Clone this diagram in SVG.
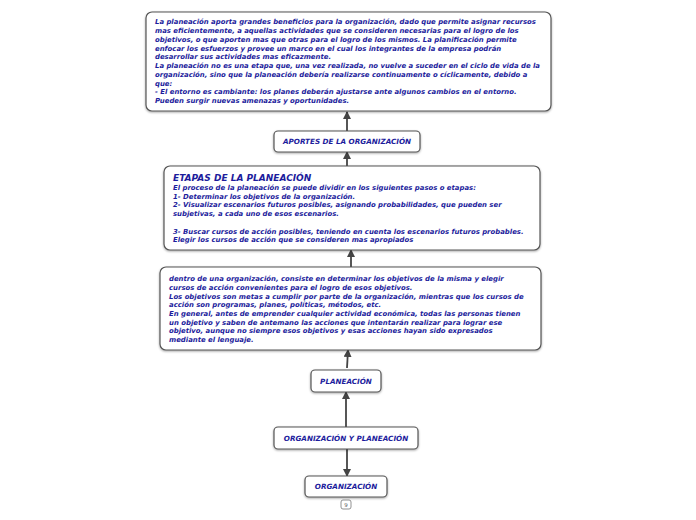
<svg xmlns="http://www.w3.org/2000/svg" width="696" height="520" viewBox="0 0 696 520">
<style>
.box{fill:#fff;stroke:#555;stroke-width:1.2}
.t{font-family:"DejaVu Sans",Verdana,sans-serif;font-weight:bold;font-style:italic;font-size:6.9px;fill:#1c1c9c}
.c{text-anchor:middle;font-size:7.2px}
.h{font-size:9px}
.con{stroke:#444;stroke-width:1.8;fill:none}
</style>
<defs>
<marker id="ah" markerWidth="8" markerHeight="8" refX="7" refY="4" orient="auto" markerUnits="userSpaceOnUse"><path d="M0,0 L8,4 L0,8 Z" fill="#444"/></marker>
<filter id="sh" x="-5%" y="-5%" width="110%" height="120%"><feDropShadow dx="0" dy="1" stdDeviation="0.8" flood-color="#000" flood-opacity="0.35"/></filter>
</defs>
<g id="connectors">
<line class="con" x1="347" y1="131" x2="347" y2="112" marker-end="url(#ah)"/>
<line class="con" x1="347" y1="166" x2="347" y2="152" marker-end="url(#ah)"/>
<line class="con" x1="351" y1="267" x2="351" y2="250" marker-end="url(#ah)"/>
<line class="con" x1="347" y1="368" x2="348" y2="350" marker-end="url(#ah)"/>
<line class="con" x1="346" y1="427" x2="346" y2="392" marker-end="url(#ah)"/>
<line class="con" x1="347" y1="449" x2="347" y2="476" marker-end="url(#ah)"/>
</g>
<g id="n1">
<rect class="box" filter="url(#sh)" x="146" y="12" width="405" height="99" rx="6"/>
<text class="t" x="155" y="24">La planeación aporta grandes beneficios para la organización, dado que permite asignar recursos</text>
<text class="t" x="155" y="33">mas eficientemente, a aquellas actividades que se consideren necesarias para el logro de los</text>
<text class="t" x="155" y="41.5">objetivos, o que aporten mas que otras para el logro de los mismos. La planificación permite</text>
<text class="t" x="155" y="50.5">enfocar los esfuerzos y provee un marco en el cual los integrantes de la empresa podrán</text>
<text class="t" x="155" y="59">desarrollar sus actividades mas eficazmente.</text>
<text class="t" x="155" y="68">La planeación no es una etapa que, una vez realizada, no vuelve a suceder en el ciclo de vida de la</text>
<text class="t" x="155" y="76.5">organización, sino que la planeación debería realizarse continuamente o cíclicamente, debido a</text>
<text class="t" x="155" y="85.5">que:</text>
<text class="t" x="155" y="94">- El entorno es cambiante: los planes deberán ajustarse ante algunos cambios en el entorno.</text>
<text class="t" x="155" y="103">Pueden surgir nuevas amenazas y oportunidades.</text>
</g>
<g id="n2">
<rect class="box" filter="url(#sh)" x="274" y="131" width="146" height="21" rx="4"/>
<text class="t c" x="347" y="144">APORTES DE LA ORGANIZACIÓN</text>
</g>
<g id="n3">
<rect class="box" filter="url(#sh)" x="164" y="166" width="376" height="84" rx="6"/>
<text class="t h" x="173" y="181">ETAPAS DE LA PLANEACIÓN</text>
<text class="t" x="173" y="190">El proceso de la planeación se puede dividir en los siguientes pasos o etapas:</text>
<text class="t" x="173" y="199">1- Determinar los objetivos de la organización.</text>
<text class="t" x="173" y="207">2- Visualizar escenarios futuros posibles, asignando probabilidades, que pueden ser</text>
<text class="t" x="173" y="216">subjetivas, a cada uno de esos escenarios.</text>
<text class="t" x="173" y="233.5">3- Buscar cursos de acción posibles, teniendo en cuenta los escenarios futuros probables.</text>
<text class="t" x="173" y="242">Elegir los cursos de acción que se consideren mas apropiados</text>
</g>
<g id="n4">
<rect class="box" filter="url(#sh)" x="160" y="267" width="381" height="83" rx="6"/>
<text class="t" x="169" y="281">dentro de una organización, consiste en determinar los objetivos de la misma y elegir</text>
<text class="t" x="169" y="290">cursos de acción convenientes para el logro de esos objetivos.</text>
<text class="t" x="169" y="298.5">Los objetivos son metas a cumplir por parte de la organización, mientras que los cursos de</text>
<text class="t" x="169" y="307">acción son programas, planes, políticas, métodos, etc.</text>
<text class="t" x="169" y="316">En general, antes de emprender cualquier actividad económica, todas las personas tienen</text>
<text class="t" x="169" y="324.5">un objetivo y saben de antemano las acciones que intentarán realizar para lograr ese</text>
<text class="t" x="169" y="333">objetivo, aunque no siempre esos objetivos y esas acciones hayan sido expresados</text>
<text class="t" x="169" y="342">mediante el lenguaje.</text>
</g>
<g id="n5">
<rect class="box" filter="url(#sh)" x="311" y="370" width="70" height="22" rx="4"/>
<text class="t c" x="346" y="384">PLANEACIÓN</text>
</g>
<g id="n6">
<rect class="box" filter="url(#sh)" x="274" y="427" width="144" height="22" rx="4"/>
<text class="t c" x="346" y="441">ORGANIZACIÓN Y PLANEACIÓN</text>
</g>
<g id="n7">
<rect class="box" filter="url(#sh)" x="305" y="476" width="82" height="21" rx="4"/>
<text class="t c" x="346" y="489">ORGANIZACIÓN</text>
</g>
<g id="badge">
<rect x="341" y="500" width="10" height="9" rx="2" fill="#fff" stroke="#777" stroke-width="0.8"/>
<text x="346" y="507" text-anchor="middle" font-family="DejaVu Sans,sans-serif" font-size="5.5" fill="#555">9</text>
</g>
</svg>
